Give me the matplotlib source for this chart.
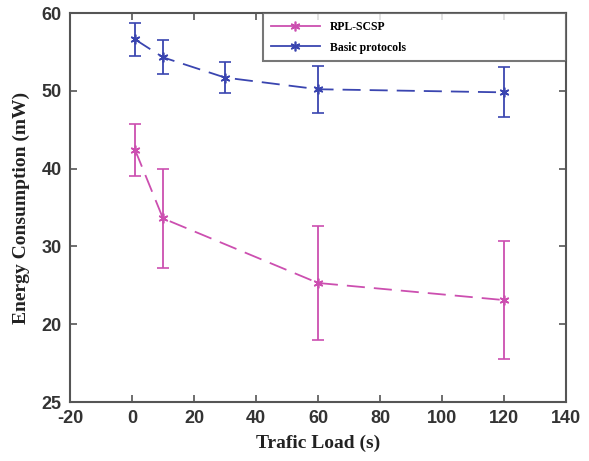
import matplotlib.pyplot as plt

plt.rcParams['axes.unicode_minus'] = False

# Traffic load (s) and energy consumption (mW) with error half-widths
loads = [1, 10, 30, 60, 120]
rpl_loads = [1, 10, 60, 120]

basic_energy = [56.6, 54.3, 51.7, 50.2, 49.8]
basic_err = [2.1, 2.2, 2.0, 3.0, 3.2]

rpl_energy = [42.4, 33.6, 25.3, 23.1]
rpl_err = [3.3, 6.4, 7.3, 7.6]

y_ticks = [10, 20, 30, 40, 50, 60]
y_tick_labels = ['25', '20', '30', '40', '50', '60']
x_ticks = [-20, 0, 20, 40, 60, 80, 100, 120, 140]

pink = '#cc4fb0'
blue = '#3a45b0'
star = (6, 2, 0)  # asterisk made of lines

fig = plt.figure(figsize=(5.89, 4.61), dpi=100)
ax = fig.add_axes([70 / 589, 1 - 402 / 461, 496 / 589, 389 / 461])

rpl = ax.errorbar(rpl_loads, rpl_energy, yerr=rpl_err, color=pink, linestyle=(0, (10, 5)),
                  linewidth=1.3, marker=star, markersize=7, markeredgewidth=1.2,
                  capsize=4, elinewidth=1.3, label='RPL-SCSP')
basic = ax.errorbar(loads, basic_energy, yerr=basic_err, color=blue, linestyle=(0, (10, 5)),
                    linewidth=1.3, marker=star, markersize=7, markeredgewidth=1.2,
                    capsize=4, elinewidth=1.3, label='Basic protocols')

ax.set_xlim(-20, 140)
ax.set_ylim(10, 60)
ax.set_xticks(x_ticks)
ax.set_yticks(y_ticks)
ax.set_yticklabels(y_tick_labels)
ax.tick_params(direction='in', top=True, right=True, length=5, width=1.2,
               color='#555555', labelsize=13, pad=6)
for lbl in ax.get_xticklabels() + ax.get_yticklabels():
    lbl.set_family('Liberation Sans')
    lbl.set_fontweight('bold')
    lbl.set_color('#333333')
for sp in ax.spines.values():
    sp.set_color('#555555')
    sp.set_linewidth(1.5)

ax.set_xlabel('Trafic Load (s)', family='Liberation Serif', fontweight='bold',
              fontsize=14, color='#222222', labelpad=5)
ax.set_ylabel('Energy Consumption (mW)', family='Liberation Serif', fontweight='bold',
              fontsize=14, color='#222222', labelpad=8)

# legend shows plain line + marker, no error bars
solid_handles = []
for cont in (rpl, basic):
    h = plt.Line2D([], [], color=cont.lines[0].get_color(), linewidth=1.3,
                   marker=star, markersize=7, markeredgewidth=1.2)
    solid_handles.append(h)
leg = ax.legend(solid_handles, ['RPL-SCSP', 'Basic protocols'],
                loc='upper left', bbox_to_anchor=(0.389, 0.877, 0.611, 0.123),
                mode='expand', frameon=True, fancybox=False, handlelength=4.2,
                borderaxespad=0, labelspacing=0.75, borderpad=0.65,
                prop={'family': 'Liberation Serif', 'weight': 'bold', 'size': 8.5})
leg.get_frame().set_edgecolor('#555555')
leg.get_frame().set_linewidth(1.5)

fig.savefig('out.png', dpi=100)
